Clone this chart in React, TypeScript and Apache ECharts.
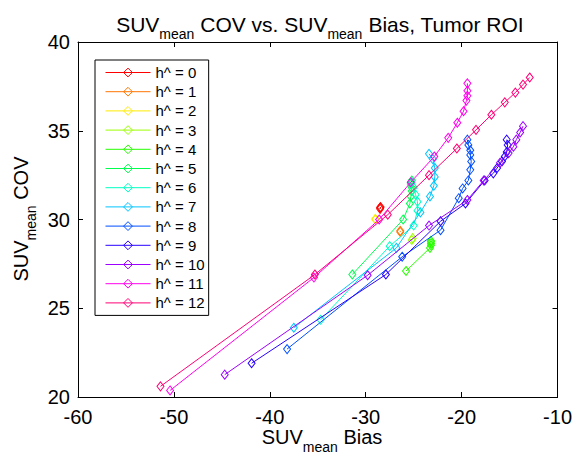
import React, { useEffect, useRef } from "react";
import * as echarts from "echarts";

const FONT = "Liberation Sans, Arial, Helvetica, sans-serif";

const seriesNames = ["h^ = 0", "h^ = 1", "h^ = 2", "h^ = 3", "h^ = 4", "h^ = 5", "h^ = 6", "h^ = 7", "h^ = 8", "h^ = 9", "h^ = 10", "h^ = 11", "h^ = 12"];
const seriesColors = ["#ff0000", "#ff7600", "#ffec00", "#9dff00", "#27ff00", "#00ff4e", "#00ffc4", "#00c4ff", "#004eff", "#2700ff", "#9d00ff", "#ff00ec", "#ff0076"];

const xTicks = [-60, -50, -40, -30, -20, -10];
const yTicks = [20, 25, 30, 35, 40];

// [bias, COV] per iteration
const h0 = [[-28.5, 30.67], [-28.5, 30.6], [-28.45, 30.7]];
const h1 = [[-26.4, 29.36], [-26.4, 29.3]];
const h2 = [[-29.0, 30.04], [-29.0, 30.0]];
const h3 = [[-25.2, 28.85], [-25.1, 28.95]];
const h4 = [[-25.8, 27.1], [-23.3, 28.4], [-23.2, 28.55], [-23.2, 28.65], [-23.2, 28.75], [-23.2, 28.8]];
const h5 = [[-31.4, 26.9], [-26.1, 30.0], [-25.4, 30.9], [-25.3, 31.3], [-25.2, 31.6], [-25.2, 31.8], [-25.3, 32.0], [-25.3, 32.1], [-25.2, 32.2]];
const h6 = [[-34.7, 24.35], [-27.5, 28.5], [-25.0, 29.66], [-24.6, 30.5], [-24.6, 31.0], [-24.8, 31.4], [-25.0, 31.8], [-25.2, 32.1]];
const h7 = [[-37.5, 23.9], [-26.8, 28.4], [-24.3, 30.4], [-23.3, 31.3], [-22.9, 31.9], [-22.8, 32.4], [-22.8, 32.9], [-23.0, 33.4], [-23.4, 33.7]];
const h8 = [[-38.2, 22.7], [-26.2, 27.9], [-22.2, 29.4], [-20.3, 31.2], [-19.9, 31.75], [-19.3, 32.2], [-19.1, 32.8], [-19.0, 33.27], [-19.1, 33.64], [-19.1, 33.9], [-19.3, 34.2], [-19.4, 34.5]];
const h9 = [[-41.9, 21.9], [-27.9, 26.9], [-22.2, 29.9], [-19.6, 30.9], [-17.6, 32.2], [-16.7, 32.6], [-16.3, 32.9], [-15.8, 33.27], [-15.5, 33.55], [-15.3, 33.8], [-15.2, 34.2], [-15.3, 34.5]];
const h10 = [[-44.7, 21.26], [-29.8, 26.86], [-23.4, 29.66], [-19.4, 31.1], [-17.7, 32.2], [-16.0, 33.2], [-15.1, 33.74], [-14.6, 34.1], [-14.3, 34.5], [-13.9, 34.9], [-13.6, 35.26]];
const h11 = [[-50.4, 20.37], [-35.4, 26.73], [-28.6, 30.0], [-25.3, 32.1], [-22.85, 33.55], [-21.4, 34.6], [-20.45, 35.45], [-19.8, 36.1], [-19.5, 36.7], [-19.4, 36.97], [-19.4, 37.25], [-19.4, 37.67]];
const h12 = [[-51.4, 20.6], [-35.3, 26.9], [-27.7, 30.27], [-23.4, 32.5], [-20.5, 34.0], [-18.5, 35.05], [-16.9, 35.9], [-15.5, 36.6], [-14.4, 37.15], [-13.6, 37.6], [-12.9, 38.0]];

const allData = [h0, h1, h2, h3, h4, h5, h6, h7, h8, h9, h10, h11, h12];

const richMain = (size: number) => ({
  a: { fontSize: size, fontFamily: FONT, color: "#000", lineHeight: 24 },
  s: { fontSize: 14, fontFamily: FONT, color: "#000", padding: [20, 0, 0, 0] },
});

export default function App() {
  const ref = useRef<HTMLDivElement>(null);
  useEffect(() => {
    document.body.style.margin = "0";
    const chart = echarts.init(ref.current!, undefined, { renderer: "svg" });
    const axisCommon = {
      type: "value" as const,
      axisLine: { show: true, onZero: false, lineStyle: { color: "#000", width: 1 } },
      axisTick: { show: true, inside: true, length: 5, lineStyle: { color: "#000", width: 1 } },
      splitLine: { show: false },
    };
    chart.setOption({
      animation: false,
      backgroundColor: "#fff",
      grid: { left: 78, right: 12, top: 42, bottom: 57, containLabel: false },
      xAxis: [
        {
          ...axisCommon,
          min: xTicks[0],
          max: xTicks[xTicks.length - 1],
          interval: 10,
          position: "bottom",
          axisLabel: { color: "#000", fontSize: 20, fontFamily: FONT, margin: 10 },
        },
        {
          ...axisCommon,
          min: xTicks[0],
          max: xTicks[xTicks.length - 1],
          interval: 10,
          position: "top",
          axisLabel: { show: false },
        },
      ],
      yAxis: [
        {
          ...axisCommon,
          min: yTicks[0],
          max: yTicks[yTicks.length - 1],
          interval: 5,
          position: "left",
          axisLabel: { color: "#000", fontSize: 20, fontFamily: FONT, margin: 8 },
        },
        {
          ...axisCommon,
          min: yTicks[0],
          max: yTicks[yTicks.length - 1],
          interval: 5,
          position: "right",
          axisLabel: { show: false },
        },
      ],
      legend: {
        orient: "vertical",
        left: 95,
        top: 60,
        padding: [5, 4, 5, 10],
        itemWidth: 45,
        itemHeight: 11,
        itemGap: 4.2,
        backgroundColor: "#fff",
        borderColor: "#000",
        borderWidth: 1,
        borderRadius: 0,
        lineStyle: { width: 1 },
        itemStyle: { borderWidth: 1 },
        textStyle: { color: "#000", fontSize: 15, fontFamily: FONT },
        data: seriesNames,
      },
      series: allData.map((d, i) => ({
        name: seriesNames[i],
        type: "line",
        data: d,
        color: seriesColors[i],
        symbol: "diamond",
        symbolSize: [7, 9],
        showAllSymbol: true,
        lineStyle: { color: seriesColors[i], width: 1 },
        itemStyle: { color: "rgba(255,255,255,0)", borderColor: seriesColors[i], borderWidth: 1 },
        emphasis: { disabled: true },
        z: 2 + i,
      })),
      graphic: [
        {
          type: "text",
          x: 320,
          y: 24,
          style: {
            text: "{a|SUV}{s|mean}{a| COV vs. SUV}{s|mean}{a| Bias, Tumor ROI}",
            rich: richMain(21),
            align: "center",
            verticalAlign: "middle",
          },
        },
        {
          type: "text",
          x: 322,
          y: 437,
          style: {
            text: "{a|SUV}{s|mean}{a| Bias}",
            rich: richMain(20),
            align: "center",
            verticalAlign: "middle",
          },
        },
        {
          type: "text",
          x: 21,
          y: 219,
          rotation: Math.PI / 2,
          style: {
            text: "{a|SUV}{s|mean}{a| COV}",
            rich: richMain(20),
            align: "center",
            verticalAlign: "middle",
          },
        },
      ],
    });
    return () => chart.dispose();
  }, []);
  return <div ref={ref} style={{ position: "fixed", left: 0, top: 0, width: 575, height: 454 }} />;
}
